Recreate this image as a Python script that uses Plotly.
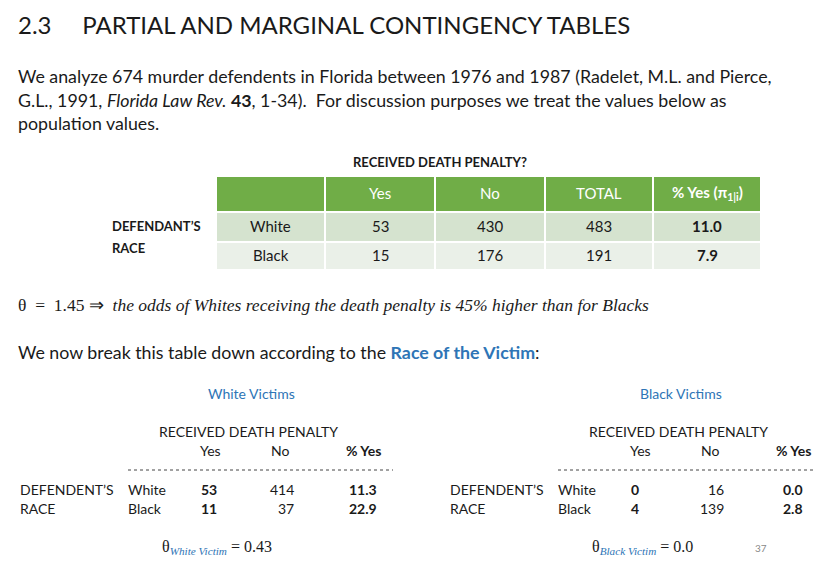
import plotly.graph_objects as go

# Marginal table
cols = ["Yes", "No", "TOTAL", "% Yes (π<sub>1|i</sub>)"]
races = ["White", "Black"]
yes = [53, 15]
no = [430, 176]
total = [483, 191]
pct = ["11.0", "7.9"]

# Partial tables by victim race
wv_yes = [53, 11]
wv_no = [414, 37]
wv_pct = ["11.3", "22.9"]
bv_yes = [0, 4]
bv_no = [16, 139]
bv_pct = ["0.0", "2.8"]

FONT = "Lato"
BLUE = "#2E75B6"
fig = go.Figure()
ann = []
shapes = []


def txt(x, y, s, size=15, color="#1a1a1a", anchor="left", family=FONT):
    ann.append(dict(x=x, y=y - 6, text=s, showarrow=False, xanchor=anchor, yanchor="middle",
                    font=dict(size=size, color=color, family=family)))


txt(8, 22, "2.3&nbsp;&nbsp;&nbsp;&nbsp;&nbsp;PARTIAL AND MARGINAL CONTINGENCY TABLES", size=24)
txt(8, 74, "We analyze 674 murder defendents in Florida between 1976 and 1987 (Radelet, M.L. and Pierce,", size=17.8)
txt(8, 98, "G.L., 1991, <i>Florida Law Rev.</i> <b>43</b>, 1-34).  For discussion purposes we treat the values below as", size=17.8)
txt(8, 121, "population values.", size=17.8)

# main table
txt(432, 160, "<b>RECEIVED DEATH PENALTY?</b>", size=13, anchor="center")
edges = [208, 317, 427, 537, 645, 753]
rows_y = [(169, 203), (205, 233), (235, 261)]
fills = ["#70AD47", "#D5E3CF", "#EAF0E8"]
for r, (y0, y1) in enumerate(rows_y):
    for c in range(5):
        shapes.append(dict(type="rect", x0=edges[c] + 1, x1=edges[c + 1] - 1, y0=y0, y1=y1,
                           fillcolor=fills[r], line=dict(width=0), layer="below"))
for c, name in enumerate(cols):
    xm = (edges[c + 1] + edges[c + 2]) / 2
    txt(xm, 191, ("<b>" + name + "</b>") if c == 3 else name, size=15, color="white", anchor="center")
for r, race in enumerate(races):
    ym = sum(rows_y[r + 1]) / 2 + 5
    vals = [race, yes[r], no[r], total[r], "<b>%s</b>" % pct[r]]
    for c, v in enumerate(vals):
        txt((edges[c] + edges[c + 1]) / 2, ym, str(v), size=15, anchor="center")
txt(102, 224, "<b>DEFENDANT’S</b>", size=13)
txt(102, 246, "<b>RACE</b>", size=13)

txt(8, 303, "θ  =  1.45 ⇒  <i>the odds of Whites receiving the death penalty is 45% higher than for Blacks</i>",
    size=17.5, family="Liberation Serif")
txt(8, 350, "We now break this table down according to the <b><span style='color:%s'>Race of the Victim</span></b>:" % BLUE,
    size=17.8)


def partial(x0, title, defl, ys, ns, ps, theta):
    txt(x0 + 233, 391, title, size=14, color=BLUE, anchor="center")
    txt(x0 + 230, 429, "RECEIVED DEATH PENALTY", size=14, anchor="center")
    txt(x0 + 192, 448, "Yes", size=14, anchor="center")
    txt(x0 + 262, 448, "No", size=14, anchor="center")
    txt(x0 + 345, 448, "<b>% Yes</b>", size=14, anchor="center")
    shapes.append(dict(type="line", x0=x0 + 110, x1=x0 + 375, y0=462, y1=462,
                       line=dict(color="#444", width=1, dash="dot")))
    txt(x0, 487, defl, size=14)
    txt(x0, 506, "RACE", size=14)
    for r, race in enumerate(races):
        y = 487 + 19 * r
        txt(x0 + 108, y, race, size=14)
        txt(x0 + 181, y, "<b>%d</b>" % ys[r], size=14)
        txt(x0 + 278, y, str(ns[r]), size=14, anchor="right")
        txt(x0 + 345, y, "<b>%s</b>" % ps[r], size=14, anchor="center")
    txt(x0 + 142, 545, "θ<sub><i><span style='color:%s'>%s</span></i></sub> = %s" % (BLUE, title[:-1], theta),
        size=16, family="Liberation Serif")


partial(10, "White Victims", "DEFENDENT’S", wv_yes, wv_no, wv_pct, "0.43")
partial(440, "Black Victims", "DEFENDENT’S", bv_yes, bv_no, bv_pct, "0.0")
txt(753, 546, "37", size=10, color="#888", anchor="center")

fig.update_layout(width=822, height=567, margin=dict(l=0, r=0, t=0, b=0),
                  paper_bgcolor="white", plot_bgcolor="white",
                  annotations=ann, shapes=shapes, showlegend=False)
fig.update_xaxes(range=[0, 822], visible=False)
fig.update_yaxes(range=[567, 0], visible=False)
fig.write_html("out.html")
